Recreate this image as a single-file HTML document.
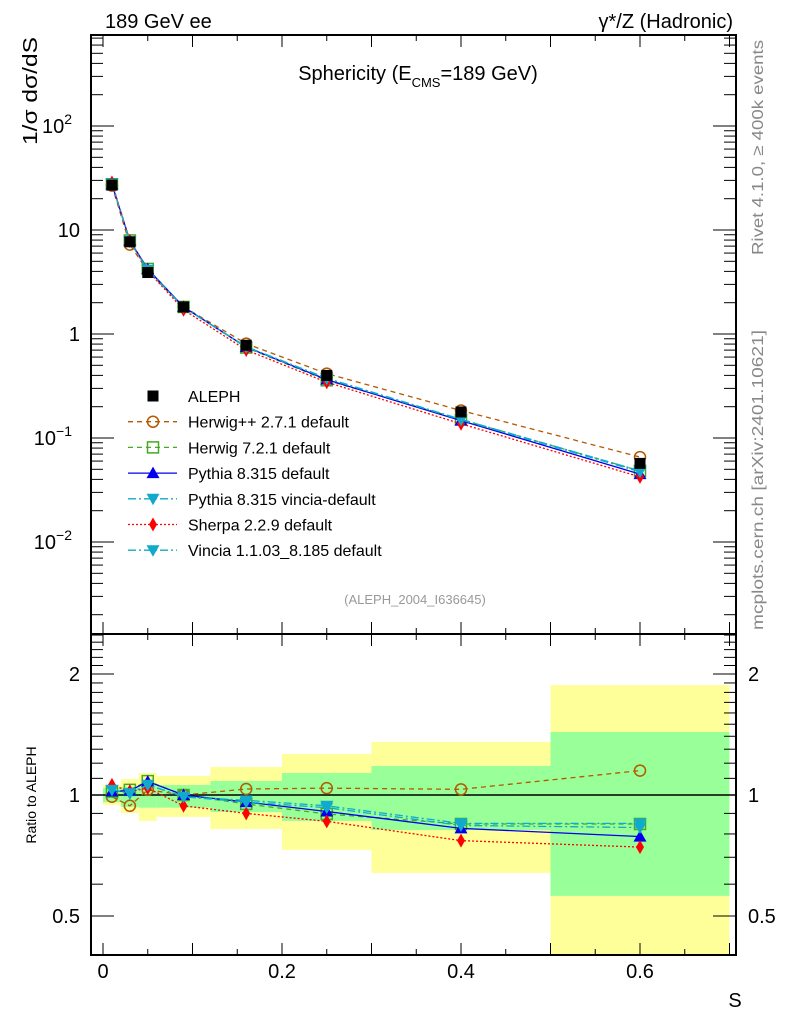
<!DOCTYPE html>
<html><head><meta charset="utf-8"><style>
body{margin:0;background:#fff}
svg{display:block;font-family:"Liberation Sans",sans-serif}
</style></head><body>
<svg id="c" width="786" height="1024" xmlns="http://www.w3.org/2000/svg">
<text x="105" y="28" font-size="20">189 GeV ee</text>
<text x="733" y="28" font-size="20" text-anchor="end">γ*/Z (Hadronic)</text>
<text x="418" y="80" font-size="20" text-anchor="middle">Sphericity (E<tspan font-size="13" dy="7">CMS</tspan><tspan dy="-7">=189 GeV)</tspan></text>
<text transform="translate(37,145) rotate(-90)" font-size="20" textLength="108" lengthAdjust="spacingAndGlyphs">1/σ  dσ/dS</text>
<text transform="translate(36,795) rotate(-90)" font-size="14" text-anchor="middle">Ratio to ALEPH</text>
<text x="735" y="1007" font-size="20" text-anchor="middle">S</text>
<text transform="translate(763,255) rotate(-90)" font-size="16" fill="#888" textLength="215" lengthAdjust="spacingAndGlyphs">Rivet 4.1.0, ≥ 400k events</text>
<text transform="translate(763,630) rotate(-90)" font-size="16" fill="#888" textLength="300" lengthAdjust="spacingAndGlyphs">mcplots.cern.ch [arXiv:2401.10621]</text>
<text x="415" y="604" font-size="13" fill="#999" text-anchor="middle">(ALEPH_2004_I636645)</text>
<g id="bands"></g><g id="grid"></g><g id="series"></g><g id="legend"></g>
</svg>
<script>
const xs=[0.01,0.03,0.05,0.09,0.16,0.25,0.4,0.6];
const binEdges=[0,0.02,0.04,0.06,0.12,0.2,0.3,0.5,0.7];
const aleph=[27,7.7,3.9,1.82,0.78,0.40,0.178,0.057];
const yellowHi=[1.06,1.096,1.134,1.115,1.174,1.265,1.355,1.877];
const yellowLo=[0.944,0.902,0.862,0.882,0.823,0.730,0.640,0.30];
const greenHi=[1.04,1.047,1.059,1.059,1.084,1.134,1.181,1.435];
const greenLo=[0.96,0.934,0.93,0.93,0.907,0.862,0.818,0.561];
const rHerwigpp=[0.99,0.94,1.03,1.0,1.035,1.04,1.033,1.15];
const rHerwig7=[1.02,1.03,1.083,1.0,0.95,0.897,0.847,0.847];
const rPythia=[1.02,1.025,1.08,1.0,0.96,0.91,0.826,0.788];
const rPythiaVincia=[1.03,1.01,1.06,0.99,0.97,0.94,0.85,0.85];
const rSherpa=[1.06,1.02,1.04,0.94,0.9,0.86,0.77,0.742];
const rVincia=[1.03,1.01,1.06,0.99,0.96,0.93,0.84,0.83];
const xTicks=[0,0.2,0.4,0.6];
const ratioTicks=[0.5,1,2];

const NS="http://www.w3.org/2000/svg";
const L=91,R=736,T=35,MB=634,B=955;
const X=v=>103+v*895;
const Y=v=>126-(Math.log10(v)-2)*104;
const RY=v=>795-Math.log2(v)*121;
function mk(p,tag,a){const e=document.createElementNS(NS,tag);for(const k in a)e.setAttribute(k,a[k]);p.appendChild(e);return e;}
const bands=document.getElementById('bands'),grid=document.getElementById('grid'),ser=document.getElementById('series'),leg=document.getElementById('legend');
const clampR=v=>Math.min(Math.max(RY(v),MB),B);
for(let i=0;i<xs.length;i++){
 const x0=X(binEdges[i]),x1=X(binEdges[i+1]);
 let e=mk(bands,'rect',{x:x0,y:clampR(yellowHi[i]),width:x1-x0,height:clampR(yellowLo[i])-clampR(yellowHi[i]),fill:'#ffff99'});
 
 
 e=mk(bands,'rect',{x:x0,y:clampR(greenHi[i]),width:x1-x0,height:clampR(greenLo[i])-clampR(greenHi[i]),fill:'#99ff99'});
 
 
}
mk(grid,'line',{x1:L,x2:R,y1:RY(1),y2:RY(1),stroke:'#000','stroke-width':1.5});
let f=mk(grid,'rect',{x:L,y:T,width:R-L,height:MB-T,fill:'none',stroke:'#000','stroke-width':2});

f=mk(grid,'rect',{x:L,y:MB,width:R-L,height:B-MB,fill:'none',stroke:'#000','stroke-width':2});

for(let k=0;k<=14;k++){const v=k*0.05,x=X(v);if(x>R)break;const len=(k%2==0)?12:6;
 for(const [yb,dir] of [[T,1],[MB,-1],[MB,1],[B,-1]]) mk(grid,'line',{x1:x,x2:x,y1:yb,y2:yb+dir*len,stroke:'#000','stroke-width':1});}
xTicks.forEach(v=>{const t=mk(grid,'text',{x:X(v),y:978,'font-size':20,'text-anchor':'middle'});t.textContent=v===0?'0':v.toFixed(1);
 });
for(let d=-3;d<=2;d++)for(let m=1;m<10;m++){const v=m*Math.pow(10,d),y=Y(v);if(y<T||y>MB)continue;const len=m==1?23:12;
 mk(grid,'line',{x1:L,x2:L+len,y1:y,y2:y,stroke:'#000'});mk(grid,'line',{x1:R,x2:R-len,y1:y,y2:y,stroke:'#000'});}
[[100,'10','2'],[10,'10',''],[1,'1',''],[0.1,'10','−1'],[0.01,'10','−2']].forEach(([v,b,s])=>{
 const t=mk(grid,'text',{x:s?72:80,y:Y(v)+7,'font-size':20,'text-anchor':'end'});t.textContent=b;
 if(s){const ts=mk(t,'tspan',{dy:-9,'font-size':14});ts.textContent=s;}
 });
for(let v=0.3;v<=2.6;v+=0.1){const y=RY(v);if(y<MB||y>B)continue;const maj=[0.5,1,2].some(q=>Math.abs(q-v)<1e-6);const len=maj?23:12;
 mk(grid,'line',{x1:L,x2:L+len,y1:y,y2:y,stroke:'#000'});mk(grid,'line',{x1:R,x2:R-len,y1:y,y2:y,stroke:'#000'});}
ratioTicks.forEach(v=>{for(const [x,a] of [[80,'end'],[748,'start']]){const t=mk(grid,'text',{x:x,y:RY(v)+7,'font-size':20,'text-anchor':a});t.textContent=String(v);
 }});
function marker(p,type,x,y,c){
 if(type=='sq')return mk(p,'rect',{x:x-5.5,y:y-5.5,width:11,height:11,fill:'#000'});
 if(type=='osq')return mk(p,'rect',{x:x-5.5,y:y-5.5,width:11,height:11,fill:'none',stroke:c,'stroke-width':1.5});
 if(type=='circ')return mk(p,'circle',{cx:x,cy:y,r:5.5,fill:'none',stroke:c,'stroke-width':1.5});
 if(type=='up')return mk(p,'path',{d:`M${x},${y-6.5}L${x+6.5},${y+5}L${x-6.5},${y+5}Z`,fill:c});
 if(type=='down')return mk(p,'path',{d:`M${x},${y+6.5}L${x+6.5},${y-5}L${x-6.5},${y-5}Z`,fill:c});
 if(type=='dia')return mk(p,'path',{d:`M${x},${y-7}L${x+4},${y}L${x},${y+7}L${x-4},${y}Z`,fill:c});
}
const series=[
 ['herwigpp',rHerwigpp,'#b35900','circ','5,4','Herwig++ 2.7.1 default'],
 ['herwig7',rHerwig7,'#44aa22','osq','5,4','Herwig 7.2.1 default'],
 ['pythia',rPythia,'#0000ee','up','','Pythia 8.315 default'],
 ['pythia-vincia',rPythiaVincia,'#11aacc','down','8,3,2,3','Pythia 8.315 vincia-default'],
 ['sherpa',rSherpa,'#ff0000','dia','2,2','Sherpa 2.2.9 default'],
 ['vincia',rVincia,'#11aacc','down','8,3,2,3','Vincia 1.1.03_8.185 default']];
series.forEach(([nm,r,c,mt,da])=>{
 const g=mk(ser,'g',{});
 
 
 const mv=xs.map((x,i)=>aleph[i]*r[i]);
 mk(g,'polyline',{points:xs.map((x,i)=>X(x)+','+Y(mv[i])).join(' '),fill:'none',stroke:c,'stroke-width':1.3,'stroke-dasharray':da});
 mk(g,'polyline',{points:xs.map((x,i)=>X(x)+','+RY(r[i])).join(' '),fill:'none',stroke:c,'stroke-width':1.3,'stroke-dasharray':da});
 xs.forEach((x,i)=>{marker(g,mt,X(x),Y(mv[i]),c);marker(g,mt,X(x),RY(r[i]),c);});
});
const ga=mk(ser,'g',{});


xs.forEach((x,i)=>marker(ga,'sq',X(x),Y(aleph[i]),'#000'));
const rows=[['sq','#000','','ALEPH']].concat(series.map(s=>[s[3],s[2],s[4],s[5]]));
rows.forEach(([mt,c,da,lab],i)=>{const y=396+i*25.7;
 const g=mk(leg,'g',{});
 
 
 if(i>0)mk(g,'line',{x1:128,x2:177,y1:y,y2:y,stroke:c,'stroke-width':1.3,'stroke-dasharray':da});
 marker(g,mt,153,y,c);
 const t=mk(g,'text',{x:188,y:y+6,'font-size':16});t.textContent=lab;});
</script>
</body></html>
